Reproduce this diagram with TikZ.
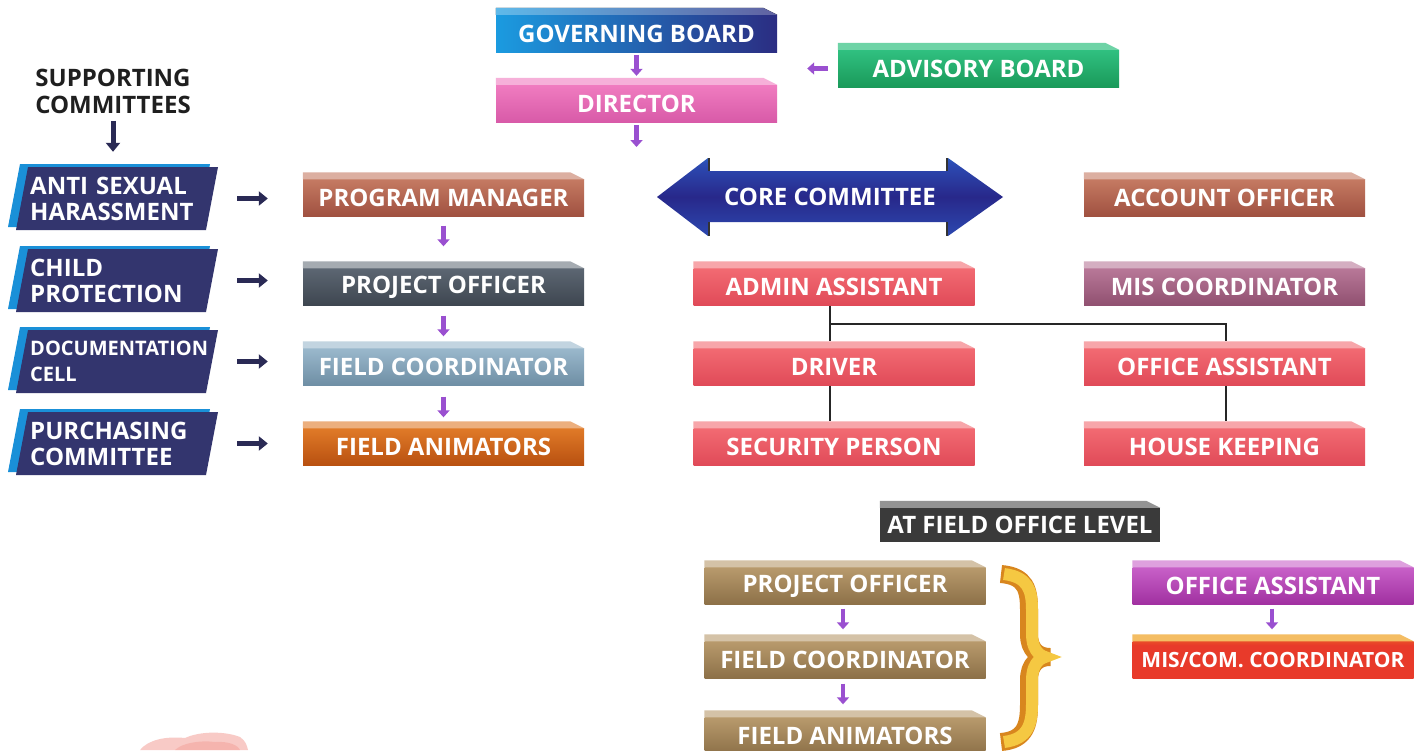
\documentclass[tikz,border=0pt]{standalone}
\usepackage{fontspec}
\setmainfont{Open Sans}
\usetikzlibrary{calc,arrows.meta}

\definecolor{gbA}{HTML}{1B9BE0}\definecolor{gbB}{HTML}{2B2D82}
\definecolor{dirA}{HTML}{F07CC0}\definecolor{dirB}{HTML}{F392CB}\definecolor{dirC}{HTML}{D85AA8}
\definecolor{advA}{HTML}{30C080}\definecolor{advB}{HTML}{1A9A5A}
\definecolor{pmA}{HTML}{C47A62}\definecolor{pmB}{HTML}{B8654E}\definecolor{pmC}{HTML}{A05040}
\definecolor{poA}{HTML}{5C6672}\definecolor{poB}{HTML}{3E4650}
\definecolor{fcA}{HTML}{9AB8CC}\definecolor{fcB}{HTML}{7E9CB0}\definecolor{fcC}{HTML}{6E8EA4}
\definecolor{faA}{HTML}{E07A28}\definecolor{faB}{HTML}{D0601A}\definecolor{faC}{HTML}{B85010}
\definecolor{misA}{HTML}{B87898}\definecolor{misB}{HTML}{A86888}\definecolor{misC}{HTML}{905070}
\definecolor{redA}{HTML}{F26A72}\definecolor{redB}{HTML}{E04A58}
\definecolor{darkA}{HTML}{3A3A3A}
\definecolor{tanA}{HTML}{B89A6C}\definecolor{tanB}{HTML}{A08256}\definecolor{tanC}{HTML}{8C7048}
\definecolor{magA}{HTML}{C860C8}\definecolor{magB}{HTML}{B040B0}\definecolor{magC}{HTML}{A030A0}
\definecolor{mcA}{HTML}{F0A020}\definecolor{mcB}{HTML}{E83A2A}\definecolor{mcC}{HTML}{F08020}
\definecolor{cmface}{HTML}{33356E}\definecolor{cmedge}{HTML}{1A90D8}
\definecolor{arrpurple}{HTML}{9A50D0}\definecolor{arrnavy}{HTML}{2A2A55}
\definecolor{braceO}{HTML}{D8861E}\definecolor{braceY}{HTML}{F5C842}
\definecolor{blob}{HTML}{F4A098}
\definecolor{coreLight}{HTML}{2EB4F0}\definecolor{coreMid}{HTML}{2C4CB4}\definecolor{coreDark}{HTML}{28288A}

% vertical blends (0bp = bottom, 100bp = top)
\pgfdeclareverticalshading{coreshade}{100bp}{%
  color(0bp)=(coreLight); color(22bp)=(coreMid); color(50bp)=(coreDark);
  color(72bp)=(coreMid); color(90bp)=(coreLight); color(100bp)=(coreLight)}
\pgfdeclareverticalshading{mcshade}{100bp}{%
  color(0bp)=(mcC); color(25bp)=(mcB); color(70bp)=(mcB); color(100bp)=(mcA)}

% A flat box with a thin bevelled top edge
\newcommand\tierbox[5]{%
  \node[face,#3] (#1) at (#2) {#5};
  \fill[#4] (#1.north west) -- ++(0,-7) -- ($(#1.north east)+(-14,-7)$) -- (#1.north east) -- cycle;
}
% A slanted committee plate with a light blue edge
\newcommand\committee[4]{%
  \begin{scope}[shift={(0,#2)}]
    \fill[commedge] (20,-3) -- (210,-3) -- (198,60) -- (8,60) -- cycle;
    \fill[commface] (28,0) -- (218,0) -- (206,63) -- (16,63) -- cycle;
    \node[commtext,#3] (#1) at (30,31.5) {#4};
  \end{scope}
}

\begin{document}
\begin{tikzpicture}[x=1pt,y=-1pt,
  lblfont/.style={font=\fontsize{24}{26}\selectfont\bfseries},
  lbl/.style={lblfont, text=white},
  face/.style={lbl, inner sep=0pt, minimum height=37pt, minimum width=281pt},
  commtext/.style={lbl, anchor=west, text width=183pt, align=left, inner sep=0pt, minimum height=63pt},
  commface/.style={fill=cmface},
  commedge/.style={fill=cmedge},
  parrow/.style={draw=arrpurple, line width=4.5pt, -{Triangle[length=7pt,width=12pt]}},
  narrow/.style={draw=arrnavy, line width=5pt, -{Triangle[length=9pt,width=14pt]}},
  orgline/.style={draw=black!85, line width=1.6pt},
  % box colour schemes
  gbface/.style={left color=gbA, right color=gbB},
  gbbevel/.style={left color=gbA!70!white, right color=gbB!75!white},
  dirface/.style={top color=dirA, middle color=dirB, bottom color=dirC},
  dirbevel/.style={fill=dirA!60!white},
  advface/.style={top color=advA, bottom color=advB},
  advbevel/.style={fill=advA!70!white},
  pmface/.style={top color=pmA, middle color=pmB, bottom color=pmC},
  pmbevel/.style={fill=pmA!60!white},
  poface/.style={top color=poA, bottom color=poB},
  pobevel/.style={fill=poA!55!white},
  fcface/.style={top color=fcA, middle color=fcB, bottom color=fcC},
  fcbevel/.style={fill=fcA!60!white},
  faface/.style={top color=faA, middle color=faB, bottom color=faC},
  fabevel/.style={fill=faA!60!white},
  misface/.style={top color=misA, middle color=misB, bottom color=misC},
  misbevel/.style={fill=misA!60!white},
  redface/.style={top color=redA, bottom color=redB},
  redbevel/.style={fill=redA!60!white},
  darkface/.style={fill=darkA},
  darkbevel/.style={fill=darkA!55!white},
  tanface/.style={top color=tanA, middle color=tanB, bottom color=tanC},
  tanbevel/.style={fill=tanA!60!white},
  magface/.style={top color=magA, middle color=magB, bottom color=magC},
  magbevel/.style={fill=magA!60!white},
  mcface/.style={shading=mcshade},
  mcbevel/.style={fill=mcA!70!white},
  coreface/.style={shading=coreshade},
]

\useasboundingbox[fill=white] (0,0) rectangle (1421,750);

% ---- top of the hierarchy
\tierbox{gb}{636.5,33.5}{gbface}{gbbevel}{GOVERNING BOARD}
\tierbox{dir}{636.5,103.5}{dirface}{dirbevel}{DIRECTOR}
\tierbox{adv}{978.5,68.5}{advface}{advbevel}{ADVISORY BOARD}
\coordinate (dirdown) at (636.5,147);

\draw[parrow, shorten <=3pt, shorten >=9pt] (gb.south) -- (dir.north);
\draw[parrow, shorten <=3pt] (dir.south) -- (dirdown);
\draw[parrow, shorten <=10pt, shorten >=30pt] (adv.west) -- (adv.west -| dir.east);

% ---- core committee double arrow
\shade[coreface]
  (657,197) -- (708,158) -- (708,171) -- (948,171) -- (948,158) -- (1003,197)
  -- (948,236) -- (948,222) -- (708,222) -- (708,236) -- cycle;
\draw[black!80, line width=2.5pt] (709,158) -- (709,171) (709,222) -- (709,236)
  (947,158) -- (947,171) (947,222) -- (947,236);
\node[lbl] (core) at (830,197) {CORE COMMITTEE};

% ---- supporting committees
\node[text=black!88, align=center, font=\fontsize{24}{27}\selectfont\bfseries] (sup) at (113,91) {SUPPORTING\\COMMITTEES};
\committee{ash}{167}{}{ANTI SEXUAL\\HARASSMENT}
\committee{cp}{249}{}{CHILD\\PROTECTION}
\committee{doc}{330}{font=\fontsize{20}{26}\selectfont\bfseries}{DOCUMENTATION\\CELL}
\committee{pur}{412}{}{PURCHASING\\COMMITTEE}

% ---- program line
\tierbox{pm}{443.5,198}{pmface}{pmbevel}{PROGRAM MANAGER}
\tierbox{po}{443.5,287}{poface}{pobevel}{PROJECT OFFICER}
\tierbox{fc}{443.5,367}{fcface}{fcbevel}{FIELD COORDINATOR}
\tierbox{fa}{443.5,447}{faface}{fabevel}{FIELD ANIMATORS}

\draw[narrow] (sup.south) ++(0,4) -- ($(sup.south |- ash.north)+(0,-15)$);
\foreach \c/\t in {ash/pm, cp/po, doc/fc, pur/fa}
  \draw[narrow, shorten <=24pt, shorten >=35pt] (\c.east) -- (\c.east -| \t.west);

\draw[parrow, shorten <=9pt, shorten >=22pt] (pm.south) -- (po.north);
\draw[parrow, shorten <=10pt, shorten >=12pt] (po.south) -- (fc.north);
\draw[parrow, shorten <=11pt, shorten >=11pt] (fc.south) -- (fa.north);

% ---- office staff
\tierbox{admin}{834,287}{redface}{redbevel}{ADMIN ASSISTANT}
\tierbox{drv}{834,367}{redface}{redbevel}{DRIVER}
\tierbox{sec}{834,447}{redface}{redbevel}{SECURITY PERSON}
\tierbox{acc}{1224.5,198}{pmface}{pmbevel}{ACCOUNT OFFICER}
\tierbox{mis}{1224.5,287}{misface}{misbevel}{MIS COORDINATOR}
\tierbox{offa}{1224.5,367}{redface}{redbevel}{OFFICE ASSISTANT}
\tierbox{hk}{1224.5,447}{redface}{redbevel}{HOUSE KEEPING}

\draw[orgline, shorten >=7pt] ([xshift=-4pt]admin.south) -- ([xshift=-4pt]drv.north);
\draw[orgline, shorten >=7pt] ([xshift=-4pt]admin.south) ++(0,18) -| ([xshift=1.5pt]offa.north);
\draw[orgline, shorten >=7pt] ([xshift=-4pt]drv.south) -- ([xshift=-4pt]sec.north);
\draw[orgline, shorten >=7pt] ([xshift=1.5pt]offa.south) -- ([xshift=1.5pt]hk.north);

% ---- field office level
\tierbox{afol}{1020,525}{darkface, minimum width=280pt, minimum height=34pt}{darkbevel}{AT FIELD OFFICE LEVEL}
\tierbox{bpo}{845,586}{tanface}{tanbevel}{PROJECT OFFICER}
\tierbox{bfc}{845,660}{tanface}{tanbevel}{FIELD COORDINATOR}
\tierbox{bfa}{845,736}{tanface}{tanbevel}{FIELD ANIMATORS}
\tierbox{boa}{1273,586}{magface}{magbevel}{OFFICE ASSISTANT}
\tierbox{mc}{1273,660}{mcface, font=\fontsize{21}{24}\selectfont\bfseries}{mcbevel}{MIS/COM. COORDINATOR}

\draw[parrow, shorten <=4pt, shorten >=12pt] ([xshift=-2pt]bpo.south) -- ([xshift=-2pt]bfc.north);
\draw[parrow, shorten <=5pt, shorten >=13pt] ([xshift=-2pt]bfc.south) -- ([xshift=-2pt]bfa.north);
\draw[parrow, shorten <=4pt, shorten >=12pt] ([xshift=-1pt]boa.south) -- ([xshift=-1pt]mc.north);

% ---- curly brace grouping the field staff
\path[draw=braceO, line width=18pt]
  (1001,574) .. controls (1026,576) and (1029,590) .. (1029,610) -- (1029,634)
  .. controls (1029,650) and (1038,657) .. (1050,657)
  .. controls (1038,657) and (1029,664) .. (1029,680) -- (1029,704)
  .. controls (1029,724) and (1026,740) .. (1001,742);
\path[draw=braceY, line width=12pt]
  (1004,574) .. controls (1028,577) and (1032,590) .. (1032,610) -- (1032,634)
  .. controls (1032,648) and (1038,655) .. (1045,657)
  .. controls (1038,659) and (1032,666) .. (1032,680) -- (1032,704)
  .. controls (1032,724) and (1028,739) .. (1004,742);

% ---- faint pink patch at the lower left
\fill[blob, opacity=0.55] (140,750) .. controls (148,740) and (165,736) .. (185,738)
  .. controls (200,731) and (225,731) .. (240,737) .. controls (246,741) and (247,746) .. (248,750) -- cycle;
\fill[blob, opacity=0.5] (175,750) .. controls (182,743) and (200,740) .. (215,742)
  .. controls (228,741) and (238,745) .. (240,750) -- cycle;
\end{tikzpicture}
\end{document}
